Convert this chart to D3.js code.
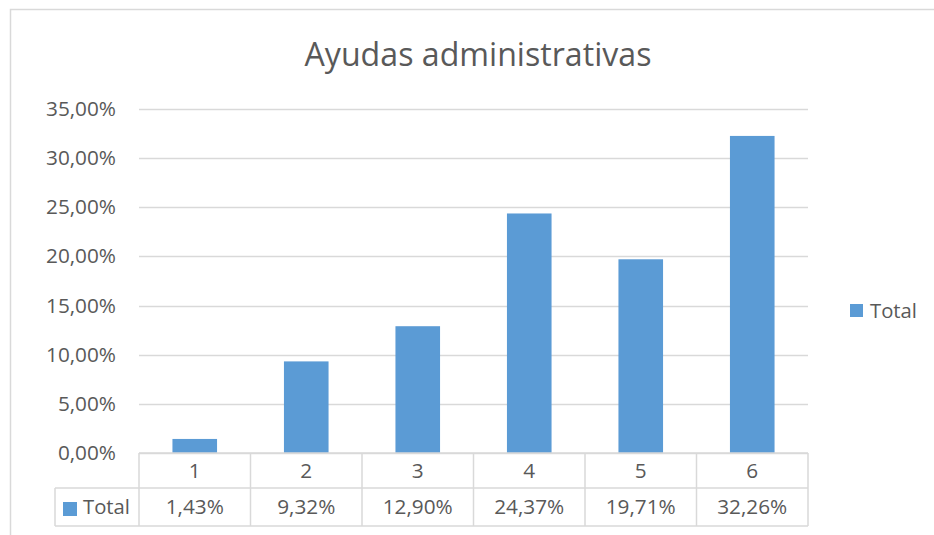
<!DOCTYPE html>
<html>
<head>
<meta charset="utf-8">
<script src="https://cdn.jsdelivr.net/npm/d3@7"></script>
<style>
  body { margin: 0; background: #fff; }
  svg { display: block; font-family: "Open Sans", sans-serif; }
</style>
</head>
<body>
<svg id="chart"></svg>
<script>
let width = 934;
let height = 535;

// datos
let categories = ['1', '2', '3', '4', '5', '6'];
let values = [1.43, 9.32, 12.90, 24.37, 19.71, 32.26];
let yTicks = [0, 5, 10, 15, 20, 25, 30, 35];
let seriesName = 'Total';
let title = 'Ayudas administrativas';

const blue = '#5B9BD5';
const grid = '#D9D9D9';
const txt = '#595959';

const fmt = v => d3.format('.2f')(v).replace('.', ',') + '%';

const svg = d3.select('#chart')
    .attr('width', width)
    .attr('height', height);

// tamaño de letra para que un texto ocupe el ancho que tiene en la imagen
function fitSize(sample, target) {
    let t = svg.append('text').style('font-size', '20px').text(sample);
    let w = t.node().getComputedTextLength();
    t.remove();
    return (20 * target / w).toFixed(2) + 'px';
}
const titleSize = fitSize(title, 347);
const tickSize = fitSize('35,00%', 70);
const cellSize = fitSize('32,26%', 70);
const legSize = fitSize('Total', 47);

// marco del grafico
svg.append('rect')
    .attr('x', 10.5).attr('y', 9.5)
    .attr('width', width).attr('height', height)
    .attr('fill', 'none')
    .attr('stroke', grid)
    .attr('stroke-width', 1.5);

const plot = {left: 139, right: 808, top: 109, bottom: 453};

const y = d3.scaleLinear()
    .domain([0, 35])
    .range([plot.bottom, plot.top]);

const col = d3.scaleBand()
    .domain(categories)
    .range([plot.left, plot.right]);

const x = d3.scaleBand()
    .domain(categories)
    .range([plot.left, plot.right])
    .paddingInner(0.6)
    .paddingOuter(0.3);

svg.append('text')
    .attr('x', 478)
    .attr('y', 66)
    .attr('text-anchor', 'middle')
    .attr('fill', txt)
    .style('font-size', titleSize)
    .text(title);

// lineas de cuadricula
svg.append('g')
    .selectAll('line')
    .data(yTicks)
    .join('line')
    .attr('x1', plot.left).attr('x2', plot.right)
    .attr('y1', d => Math.round(y(d)) + 0.5)
    .attr('y2', d => Math.round(y(d)) + 0.5)
    .attr('stroke', grid)
    .attr('stroke-width', 1.5);

svg.append('g')
    .selectAll('text')
    .data(yTicks)
    .join('text')
    .attr('x', 116)
    .attr('y', d => y(d) + 7)
    .attr('text-anchor', 'end')
    .attr('fill', txt)
    .style('font-size', tickSize)
    .text(d => fmt(d));

// barras
svg.append('g')
    .selectAll('rect')
    .data(values)
    .join('rect')
    .attr('x', (d, i) => x(categories[i]))
    .attr('width', x.bandwidth())
    .attr('y', d => y(d))
    .attr('height', d => y(0) - y(d))
    .attr('fill', blue);

// tabla de datos
const row1 = plot.bottom, row2 = 488, row3 = 526;
const tbl = svg.append('g')
    .attr('stroke', grid)
    .attr('stroke-width', 1.5);

tbl.append('line').attr('x1', plot.left).attr('x2', plot.right).attr('y1', row1).attr('y2', row1);
tbl.append('line').attr('x1', 55).attr('x2', plot.right).attr('y1', row2).attr('y2', row2);
tbl.append('line').attr('x1', 55).attr('x2', plot.right).attr('y1', row3).attr('y2', row3);
tbl.append('line').attr('x1', 55).attr('x2', 55).attr('y1', row2).attr('y2', row3);
tbl.selectAll('line.v')
    .data(categories.concat(['end']))
    .join('line')
    .attr('class', 'v')
    .attr('x1', d => d === 'end' ? plot.right : col(d))
    .attr('x2', d => d === 'end' ? plot.right : col(d))
    .attr('y1', row1).attr('y2', row3);

svg.append('g')
    .selectAll('text')
    .data(categories)
    .join('text')
    .attr('x', d => col(d) + col.bandwidth() / 2)
    .attr('y', (row1 + row2) / 2 + 7)
    .attr('text-anchor', 'middle')
    .attr('fill', txt)
    .style('font-size', cellSize)
    .text(d => d);

svg.append('g')
    .selectAll('text')
    .data(values)
    .join('text')
    .attr('x', (d, i) => col(categories[i]) + col.bandwidth() / 2)
    .attr('y', (row2 + row3) / 2 + 7)
    .attr('text-anchor', 'middle')
    .attr('fill', txt)
    .style('font-size', cellSize)
    .text(d => fmt(d));

svg.append('rect')
    .attr('x', 63).attr('y', 502)
    .attr('width', 14).attr('height', 14)
    .attr('fill', blue);
svg.append('text')
    .attr('x', 83).attr('y', (row2 + row3) / 2 + 7)
    .attr('fill', txt)
    .style('font-size', legSize)
    .text(seriesName);

// leyenda
svg.append('rect')
    .attr('x', 850).attr('y', 304)
    .attr('width', 13).attr('height', 13)
    .attr('fill', blue);
svg.append('text')
    .attr('x', 870).attr('y', 318)
    .attr('fill', txt)
    .style('font-size', legSize)
    .text(seriesName);
</script>
</body>
</html>
